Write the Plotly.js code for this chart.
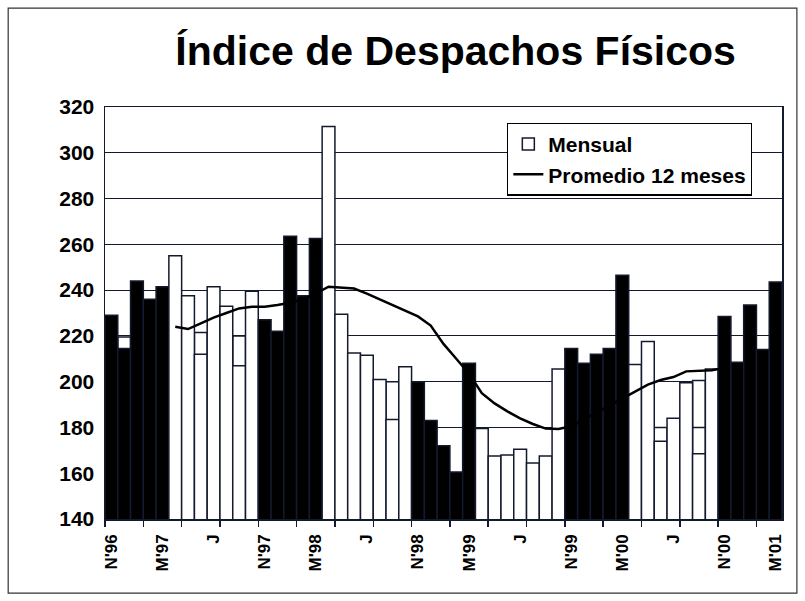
<!DOCTYPE html>
<html>
<head>
<meta charset="utf-8">
<script src="https://cdn.plot.ly/plotly-3.0.1.min.js"></script>
<style>
  body { margin: 0; background: #fff; }
  #Graph { width: 805px; height: 601px; }
</style>
</head>
<body>
<div id="Graph"></div>
<script>
// meses de nov-96 a mar-01 (53 barras), verano = nov..mar en negro
var meses = ['N96','D96','E97','F97','M97','A97','M97','J97','J97','A97','S97','O97',
  'N97','D97','E98','F98','M98','A98','M98','J98','J98','A98','S98','O98',
  'N98','D98','E99','F99','M99','A99','M99','J99','J99','A99','S99','O99',
  'N99','D99','E00','F00','M00','A00','M00','J00','J00','A00','S00','O00',
  'N00','D00','E01','F01','M01'];

var mensual = [229, 214.5, 244, 236, 241.5, 255, 237.5, 212, 241.5, 233, 207, 239.5,
  227, 222, 263.5, 237.5, 262.5, 311.5, 229.5, 212.5, 211.5, 201, 183.5, 206.5,
  200, 183, 172, 160.5, 208, 179.5, 167.5, 168, 170.5, 164.5, 167.5, 205.5,
  214.5, 208, 212, 214.5, 246.5, 207.5, 217.5, 174, 184, 199.5, 168.5, 205.5,
  228.5, 208.5, 233.5, 214, 243.5];

// barras que asoman detras (doble registro en el original)
var otra = [null, 219.5, null, null, null, null, null, 221.5, null, null, 220, null,
  null, null, null, null, null, null, null, null, null, null, 200, null,
  null, null, null, null, null, null, null, null, null, null, null, null,
  null, null, null, null, null, null, null, 180, null, null, 200.5, null,
  null, null, null, null, null];
var tercera = [];
for (var i = 0; i < meses.length; i++) tercera.push(null);
tercera[46] = 180;

var promedio = [null, null, null, null, null, 224, 223, 225.5, 228, 230, 232, 232.7,
  232.7, 233.5, 234.5, 236, 238.5, 241.5, 241, 240.7, 238.5, 236, 233.5, 231,
  228.5, 224.5, 216.5, 210, 203.5, 195, 190.5, 187, 184, 181.5, 179.5, 179.3,
  180.5, 183.5, 186.5, 189.5, 192.5, 195.5, 198.7, 200.7, 202, 204.5, 204.7, 205,
  206];

var etiquetas = ["N'96", "M'97", 'J', "N'97", "M'98", 'J', "N'98", "M'99", 'J', "N'99", "M'00", 'J', "N'00", "M'01"];

var idx = meses.map((m, i) => i);
var posEtiquetas = etiquetas.map((e, k) => k * 4);
var colores = meses.map((m, i) => (i % 12) < 5 ? '#000000' : '#ffffff');

var borde = '#141a2e';
var fuente = 'Liberation Sans, Arial, sans-serif';

var trazaOtra = {
  x: idx, y: otra, type: 'bar', name: 'Mensual',
  marker: { color: '#ffffff', line: { color: borde, width: 1.5 } },
  legendgroup: 'a'
};
var trazaTercera = {
  x: idx, y: tercera, type: 'bar', showlegend: false,
  marker: { color: '#ffffff', line: { color: borde, width: 1.5 } }
};
var trazaMensual = {
  x: idx, y: mensual, type: 'bar', showlegend: false,
  marker: { color: colores, line: { color: borde, width: 1.5 } }
};
var trazaPromedio = {
  x: idx, y: promedio, type: 'scatter', mode: 'lines', name: 'Promedio 12 meses',
  line: { color: '#000000', width: 2.5 }, legendgroup: 'b'
};

var layout = {
  width: 805, height: 601,
  margin: { l: 105, r: 23, t: 107, b: 82 },
  paper_bgcolor: '#ffffff', plot_bgcolor: '#ffffff',
  barmode: 'overlay', bargap: 0,
  font: { family: fuente, color: '#000000' },
  title: {
    text: 'Índice de Despachos Físicos',
    font: { size: 41, weight: 'bold', family: fuente },
    xref: 'container', x: 0.566, xanchor: 'center',
    yref: 'container', y: 0.915, yanchor: 'middle'
  },
  xaxis: {
    range: [-0.5, 52.5],
    tickmode: 'array', tickvals: posEtiquetas, ticktext: etiquetas,
    tickangle: -90, ticks: '', ticklabelstandoff: 7,
    tickfont: { size: 17, weight: 'bold', family: fuente },
    minor: { tickmode: 'linear', tick0: -0.5, dtick: 3, ticks: 'outside', ticklen: 6, tickwidth: 1.5, tickcolor: borde, showgrid: false },
    showline: true, linecolor: borde, linewidth: 1.5, mirror: true,
    showgrid: false, zeroline: false, fixedrange: true
  },
  yaxis: {
    range: [140, 320], dtick: 20,
    tickfont: { size: 21, weight: 'bold', family: fuente },
    ticks: '', ticklabelstandoff: 5,
    showline: true, linecolor: borde, linewidth: 1.5, mirror: true,
    showgrid: true, gridcolor: borde, gridwidth: 1.2, zeroline: false
  },
  legend: {
    x: 0.594, y: 0.962, xanchor: 'left', yanchor: 'top',
    bgcolor: '#ffffff', bordercolor: '#000000', borderwidth: 1.2,
    font: { size: 21, weight: 'bold', family: fuente },
    itemwidth: 30, tracegroupgap: 0
  },
  shapes: [{
    type: 'rect', xref: 'paper', yref: 'paper',
    x0: -0.143, x1: 1.022, y0: -0.18, y1: 1.24,
    line: { color: '#333333', width: 1.2 }
  }]
};

Plotly.newPlot('Graph', [trazaOtra, trazaTercera, trazaMensual, trazaPromedio], layout, { staticPlot: true });
</script>
</body>
</html>
